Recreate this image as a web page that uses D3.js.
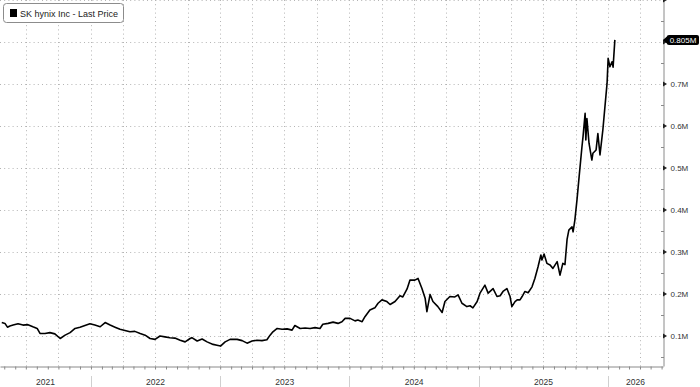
<!DOCTYPE html>
<html>
<head>
<meta charset="utf-8">
<script src="https://cdn.jsdelivr.net/npm/d3@7"></script>
<style>
  html, body { margin: 0; padding: 0; background: #fff; }
  svg { display: block; font-family: "Liberation Sans", Arial, sans-serif; }
</style>
</head>
<body>
<svg id="chart" width="700" height="387"></svg>
<script>
// ---- Data ----
const seriesName = "SK hynix Inc - Last Price";
const lastLabel = "0.805M";
const dates = [
  "2021-04-24","2021-05-03","2021-05-10","2021-05-17","2021-05-26","2021-06-09","2021-06-23","2021-07-07",
  "2021-07-21","2021-08-02","2021-08-10","2021-08-24","2021-09-07","2021-09-21","2021-10-06","2021-10-20",
  "2021-11-03","2021-11-17","2021-12-01","2021-12-15","2021-12-29","2022-01-12","2022-01-27","2022-02-10",
  "2022-02-24","2022-03-10","2022-03-24","2022-04-07","2022-04-21","2022-05-05","2022-05-20","2022-06-03",
  "2022-06-17","2022-07-01","2022-07-15","2022-07-29","2022-08-12","2022-08-26","2022-09-10","2022-09-24",
  "2022-10-08","2022-10-13","2022-10-28","2022-11-11","2022-11-25","2022-12-12","2022-12-23","2023-01-02",
  "2023-01-15","2023-01-29","2023-02-18","2023-03-04","2023-03-18","2023-04-01","2023-04-15","2023-04-29",
  "2023-05-13","2023-05-22","2023-05-30","2023-06-11","2023-06-25","2023-07-09","2023-07-23","2023-07-31",
  "2023-08-15","2023-08-29","2023-09-12","2023-09-26","2023-10-10","2023-10-18","2023-11-02","2023-11-16",
  "2023-11-30","2023-12-11","2023-12-20","2024-01-03","2024-01-17","2024-01-25","2024-02-06","2024-02-14",
  "2024-02-28","2024-03-13","2024-03-22","2024-04-02","2024-04-16","2024-04-25","2024-05-09","2024-05-23",
  "2024-05-31","2024-06-12","2024-06-20","2024-07-04","2024-07-13","2024-07-24","2024-08-02","2024-08-07",
  "2024-08-16","2024-08-24","2024-09-07","2024-09-19","2024-09-27","2024-10-11","2024-10-25","2024-11-03",
  "2024-11-14","2024-11-28","2024-12-07","2024-12-15","2024-12-27","2025-01-04","2025-01-18","2025-01-27",
  "2025-02-10","2025-02-21","2025-03-02","2025-03-10","2025-03-21","2025-03-30","2025-04-04","2025-04-13",
  "2025-04-19","2025-04-27","2025-05-03","2025-05-11","2025-05-20","2025-05-31","2025-06-08","2025-06-17",
  "2025-06-25","2025-06-28","2025-07-04","2025-07-12","2025-07-21","2025-07-29","2025-08-10","2025-08-18",
  "2025-08-26","2025-09-01","2025-09-07","2025-09-12","2025-09-21","2025-09-24","2025-09-29","2025-10-05",
  "2025-10-11","2025-10-19","2025-10-22","2025-10-28","2025-10-30","2025-11-02","2025-11-08","2025-11-16",
  "2025-11-19","2025-11-28","2025-12-03","2025-12-09","2025-12-17","2025-12-23","2025-12-29","2026-01-01",
  "2026-01-06","2026-01-12","2026-01-15","2026-01-20"
];
const prices = [ // millions of KRW
  0.132,0.130,0.121,0.124,0.126,0.129,0.126,0.127,
  0.122,0.118,0.106,0.106,0.108,0.105,0.094,0.102,
  0.108,0.118,0.121,0.125,0.129,0.126,0.122,0.132,
  0.126,0.121,0.116,0.113,0.110,0.111,0.106,0.102,
  0.094,0.092,0.100,0.098,0.096,0.095,0.090,0.086,
  0.094,0.096,0.088,0.093,0.086,0.080,0.078,0.076,
  0.086,0.092,0.092,0.089,0.083,0.088,0.090,0.089,
  0.091,0.102,0.110,0.118,0.116,0.117,0.114,0.125,
  0.118,0.119,0.118,0.120,0.118,0.128,0.130,0.133,
  0.130,0.134,0.142,0.142,0.136,0.138,0.134,0.146,
  0.162,0.167,0.178,0.186,0.182,0.175,0.182,0.196,
  0.193,0.212,0.233,0.233,0.237,0.213,0.190,0.158,
  0.199,0.182,0.170,0.156,0.182,0.194,0.193,0.198,
  0.178,0.170,0.172,0.167,0.182,0.202,0.221,0.202,
  0.213,0.194,0.196,0.206,0.213,0.194,0.170,0.182,
  0.186,0.186,0.194,0.206,0.203,0.217,0.237,0.265,
  0.293,0.281,0.295,0.273,0.269,0.261,0.277,0.245,
  0.273,0.270,0.330,0.352,0.360,0.348,0.376,0.424,
  0.479,0.550,0.574,0.630,0.567,0.618,0.559,0.519,
  0.535,0.543,0.582,0.531,0.590,0.646,0.702,0.761,
  0.741,0.753,0.740,0.805
];
const yMajorTicks = [0.1,0.2,0.3,0.4,0.5,0.6,0.7,0.8,0.9];
const yLabelTicks = [0.1,0.2,0.3,0.4,0.5,0.6,0.7];
const yMinorTicks = [0.05,0.15,0.25,0.35,0.45,0.55,0.65,0.75,0.85];
const xDomain = ["2021-04-19","2026-06-05"];

// ---- Layout ----
const W = 700, H = 387;
const plotRight = 663, plotBottom = 366;
const parse = d3.utcParse("%Y-%m-%d");
const data = dates.map((d, i) => ({ date: parse(d), value: prices[i] }));

const x = d3.scaleUtc().domain(xDomain.map(parse)).range([0, plotRight]);
const y = d3.scaleLinear().domain([0.1 - 30/420, 0.9]).range([plotBottom, 0]);

const svg = d3.select("#chart");
svg.append("rect").attr("width", W).attr("height", H).attr("fill", "#fff");

// Grid
const grid = svg.append("g").attr("stroke", "#b4b4b4").attr("stroke-width", 1).attr("stroke-dasharray", "1,3.2");
const quarters = x.ticks(d3.utcMonth.every(3));
grid.selectAll("line.v").data(quarters).join("line")
  .attr("x1", d => Math.round(x(d)) + 0.5).attr("x2", d => Math.round(x(d)) + 0.5)
  .attr("y1", 0).attr("y2", plotBottom);
grid.selectAll("line.h").data(yMajorTicks).join("line")
  .attr("x1", 0).attr("x2", plotRight)
  .attr("y1", d => Math.round(y(d)) + 0.5).attr("y2", d => Math.round(y(d)) + 0.5);

// Bottom axis with monthly ticks
const xAxis = d3.axisBottom(x).ticks(d3.utcMonth.every(1)).tickSize(3).tickSizeOuter(0).tickFormat("");
const gx = svg.append("g").attr("transform", `translate(0,${plotBottom + 0.5})`).call(xAxis);
gx.select(".domain").attr("stroke", "#8a8a8a");
gx.selectAll(".tick line").attr("stroke", "#8a8a8a");

// Year separators and labels
const years = d3.utcYear.range(d3.utcYear.floor(x.domain()[0]), x.domain()[1]);
const yearG = svg.append("g");
years.forEach(ys => {
  const ye = d3.utcYear.offset(ys, 1);
  const a = Math.max(0, x(ys)), b = Math.min(plotRight, x(ye));
  if (x(ys) > 0) {
    yearG.append("line").attr("x1", Math.round(x(ys)) + 0.5).attr("x2", Math.round(x(ys)) + 0.5)
      .attr("y1", 376).attr("y2", H).attr("stroke", "#d0d0d0");
  }
  yearG.append("text").attr("x", (a + b) / 2).attr("y", 385)
    .attr("text-anchor", "middle").attr("font-size", 8.5).attr("fill", "#333")
    .text(d3.utcFormat("%Y")(ys));
});

// Right axis
const yAxis = d3.axisRight(y).tickValues(yLabelTicks).tickSize(0).tickPadding(7)
  .tickFormat(d => d3.format(".1f")(d) + "M");
const gy = svg.append("g").attr("transform", `translate(${plotRight + 0.5},0)`).call(yAxis);
gy.select(".domain").attr("stroke", "#8a8a8a");
gy.selectAll(".tick text").attr("font-size", 8).attr("fill", "#333")
  .attr("font-family", '"Liberation Sans", Arial, sans-serif');
// major tick markers (small right-pointing triangles)
svg.append("g").selectAll("path").data(yMajorTicks).join("path")
  .attr("d", d => { const yy = y(d); return `M${plotRight},${yy - 2.5}L${plotRight + 4},${yy}L${plotRight},${yy + 2.5}Z`; })
  .attr("fill", "#222");
// minor ticks
svg.append("g").selectAll("line").data(yMinorTicks).join("line")
  .attr("x1", plotRight - 2).attr("x2", plotRight + 1)
  .attr("y1", d => Math.round(y(d)) + 0.5).attr("y2", d => Math.round(y(d)) + 0.5)
  .attr("stroke", "#8a8a8a");

// Price line
const line = d3.line().x(d => x(d.date)).y(d => y(d.value));
svg.append("path").datum(data).attr("d", line)
  .attr("fill", "none").attr("stroke", "#000").attr("stroke-width", 1.6)
  .attr("stroke-linejoin", "round");

// Last value label
const last = data[data.length - 1];
const ly = y(last.value);
const lg = svg.append("g");
lg.append("path")
  .attr("d", `M${plotRight},${ly}L${plotRight + 5},${ly - 4.5}L${plotRight + 5},${ly + 4.5}Z`).attr("fill", "#000");
lg.append("rect").attr("x", plotRight + 4).attr("y", ly - 5).attr("width", 32).attr("height", 10)
  .attr("rx", 2).attr("fill", "#000");
lg.append("text").attr("x", plotRight + 20).attr("y", ly + 3)
  .attr("text-anchor", "middle").attr("font-size", 8).attr("fill", "#fff").text(lastLabel);

// Legend
const leg = svg.append("g");
leg.append("rect").attr("x", 3.5).attr("y", 3.5).attr("width", 120).attr("height", 19)
  .attr("rx", 3).attr("fill", "#fff").attr("stroke", "#8c8c8c");
leg.append("rect").attr("x", 10).attr("y", 9).attr("width", 7).attr("height", 8).attr("fill", "#000");
leg.append("text").attr("x", 20).attr("y", 16.5).attr("font-size", 9).attr("fill", "#222").text(seriesName);
</script>
</body>
</html>
